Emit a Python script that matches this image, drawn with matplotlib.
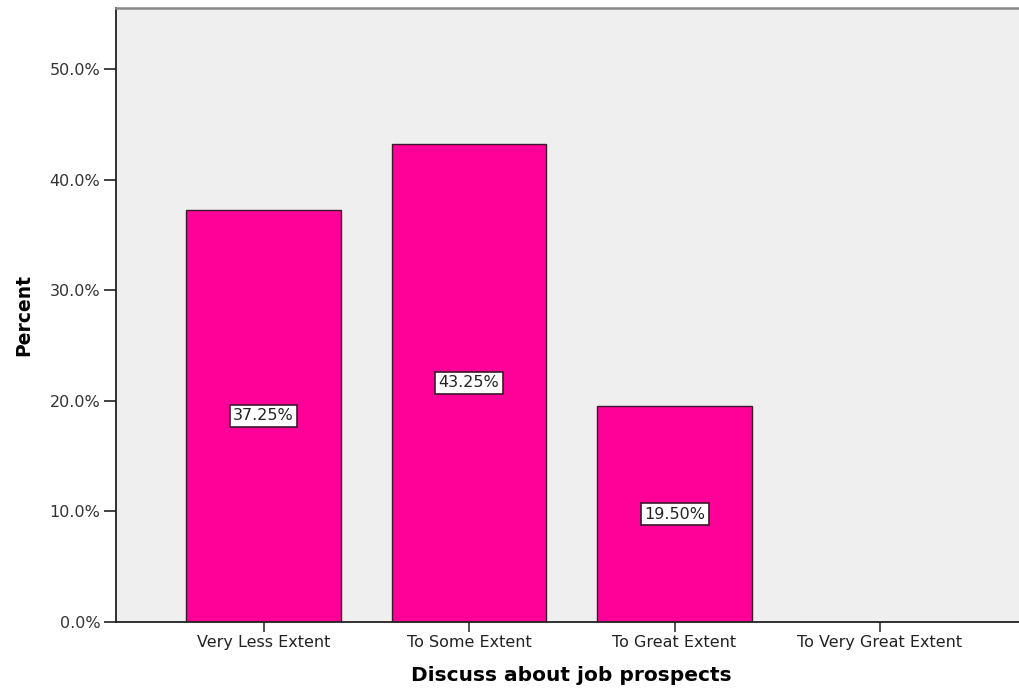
import matplotlib.pyplot as plt
import numpy as np

categories = ['Very Less Extent', 'To Some Extent', 'To Great Extent', 'To Very Great Extent']
percents = [37.25, 43.25, 19.50, 0.0]
yticks = [0, 10, 20, 30, 40, 50]

fig = plt.figure(figsize=(10.2, 6.88), dpi=100)
ax = fig.add_axes([0.1134, 0.0959, 0.8944, 0.8924])
ax.set_facecolor('#EFEFEF')

x = np.arange(len(categories))
bars = ax.bar(x, percents, width=0.752, color='#FF0099', edgecolor='#3a1a2a', linewidth=1.0, zorder=2)

for xi, v in zip(x, percents):
    if v > 0:
        ax.text(xi, v / 2, f'{v:.2f}%', ha='center', va='center', fontsize=11.5,
                family='DejaVu Sans', color='#222222', zorder=3,
                bbox=dict(boxstyle='square,pad=0.22', facecolor='white', edgecolor='#3a1a2a', linewidth=1.2))

ax.set_xlim(-0.72, 3.72)
ax.set_ylim(0, 55.5)
ax.set_yticks(yticks)
ax.set_yticklabels([f'{t:.1f}%' for t in yticks], family='DejaVu Sans', fontsize=11.5, color='#333333')
ax.set_xticks(x)
ax.set_xticklabels(categories, family='DejaVu Sans', fontsize=11.5, color='#222222')
ax.tick_params(axis='y', length=9, width=1.2, color='#222222', pad=2)
ax.tick_params(axis='x', length=7, width=1.2, color='#333333', pad=2)

for s in ['left', 'bottom']:
    ax.spines[s].set_color('#222222')
    ax.spines[s].set_linewidth(1.3)
ax.spines['top'].set_color('#888888')
ax.spines['top'].set_linewidth(1.8)
ax.spines['right'].set_visible(False)

ax.set_ylabel('Percent', fontsize=13.5, fontweight='bold', family='DejaVu Sans', labelpad=12)
ax.set_xlabel('Discuss about job prospects', fontsize=14.5, fontweight='bold', family='DejaVu Sans', labelpad=12)

fig.savefig('out.png', dpi=100)
